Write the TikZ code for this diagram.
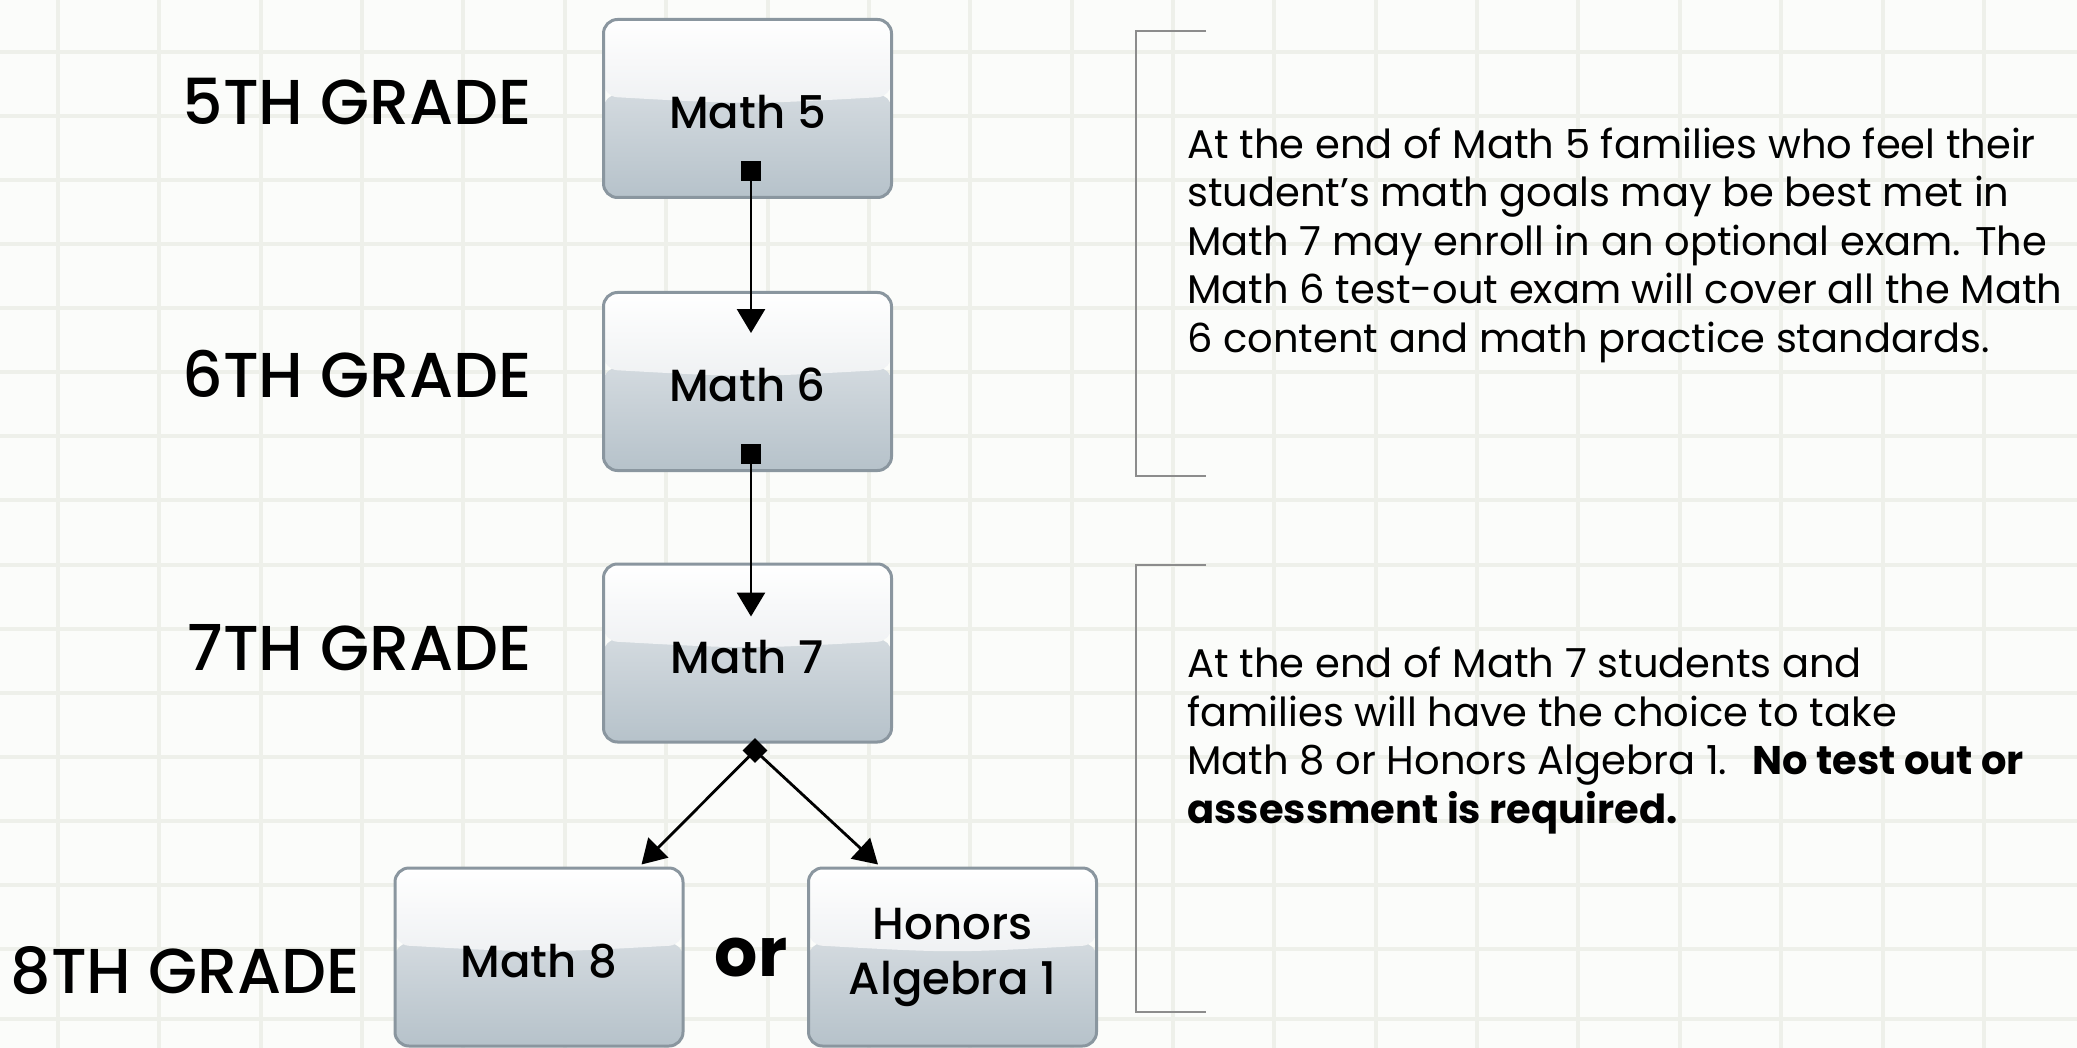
\documentclass[tikz,border=0pt]{standalone}
\usepackage{fontspec}
\setmainfont{Poppins}
\newfontfamily\poppinsmedium{Poppins Medium}
\usetikzlibrary{arrows.meta,positioning,calc,shapes.geometric}

\definecolor{paper}{HTML}{FBFCFA}
\definecolor{gridline}{HTML}{EEF0EA}
\definecolor{boxedge}{HTML}{8A969F}
\definecolor{boxhi}{HTML}{EFF1F3}
\definecolor{boxmid}{HTML}{E8EBEE}
\definecolor{boxlow}{HTML}{B6C2CA}
\definecolor{bracketgray}{HTML}{8C8C8C}

\tikzset{
  course/.style={draw=boxedge, line width=1.5pt, rounded corners=7pt,
    minimum width=144pt, minimum height=89pt, inner sep=0pt, align=center,
    font=\poppinsmedium\fontsize{22.5pt}{27.5pt}\selectfont,
    path picture={
      \shade[top color=boxmid, bottom color=boxlow]
        (path picture bounding box.south west) rectangle ([yshift=7pt]path picture bounding box.east);
      \shade[top color=white, bottom color=boxhi]
        (path picture bounding box.north west) -- (path picture bounding box.north east)
        -- ([yshift=6pt]path picture bounding box.east)
        .. controls ([yshift=2pt]path picture bounding box.center) ..
        ([yshift=6pt]path picture bounding box.west) -- cycle;
    }},
  oneline/.style={text height=20pt, text depth=0pt},
  grade/.style={font=\poppinsmedium\fontsize{31.7pt}{40pt}\selectfont, anchor=base east, inner sep=0pt},
  note/.style={font=\fontsize{20pt}{24.25pt}\selectfont, align=left, anchor=base west, inner sep=0pt},
  conn/.style={line width=1.4pt, {Square[length=10pt,width=10pt]}-{Triangle[length=12pt,width=14pt]}},
  branch/.style={line width=1.4pt, -{Triangle[length=12pt,width=14pt]}},
  splitdot/.style={diamond, fill=black, inner sep=0pt, minimum width=12.5pt, minimum height=12.5pt},
  bracket/.style={draw=bracketgray, line width=1.2pt}
}

\begin{document}
\begin{tikzpicture}[x=0.5pt, y=-0.5pt]
  \useasboundingbox (0,0) rectangle (2077,1048);
  \fill[paper] (0,0) rectangle (2077,1048);

  % grid paper
  \foreach \gx in {0,...,19}
    \draw[gridline, line width=2pt] ({58+101.36*\gx},0) -- ({58+101.36*\gx},1048);
  \foreach \gy in {52,116,180,244,308,372,436,500,565,629,693,757,821,885,949,1019}
    \draw[gridline, line width=2pt] (0,\gy) -- (2077,\gy);

  % courses
  \node[course, oneline] (m5) at (747.5,108.5) {Math 5};
  \node[course, oneline] (m6) at (747.5,381.5) {Math 6};
  \node[course, oneline] (m7) at (747.5,653) {Math 7};
  \node[course, oneline] (m8) at (539,957) {Math 8};
  \node[course] (ha1) at (952.5,957) {Honors\\Algebra 1};

  % grade labels
  \node[grade] (g5) at (532,125) {5TH GRADE};
  \node[grade] (g6) at (532,397) {6TH GRADE};
  \node[grade] (g7) at (532,670) {7TH GRADE};
  \node[grade] (g8) at (360,993) {8TH GRADE};
  \node[font=\fontsize{34pt}{40pt}\selectfont\bfseries, anchor=base, inner sep=0pt] (or) at (751,976) {or};

  % connectors
  \draw[conn] ([xshift=1.75pt,yshift=19pt]m5.south) -- ([xshift=1.75pt,yshift=-21pt]m6.north);
  \draw[conn] ([xshift=1.75pt,yshift=14pt]m6.south) -- ([xshift=1.75pt,yshift=-27pt]m7.north);
  \node[splitdot] (split) at ([xshift=3.75pt,yshift=-3.5pt]m7.south) {};
  \draw[branch] (split.center) -- ([xshift=-21.5pt,yshift=1pt]m8.north east);
  \draw[branch] (split.center) -- ([xshift=35.5pt,yshift=1pt]ha1.north west);

  % side notes (anchored on the last line)
  \draw[bracket] (1206,31) -- (1136,31) -- (1136,476) -- (1206,476);
  \node[note] (n1) at (1187,352) {At the end of Math 5 families who feel their\\
    student’s math goals may be best met in\\
    Math 7 may enroll in an optional exam. The\\
    Math 6 test-out exam will cover all the Math\\
    6 content and math practice standards.};
  \draw[bracket] (1206,565) -- (1136,565) -- (1136,1012) -- (1206,1012);
  \node[note] (n2) at (1187,823) {At the end of Math 7 students and\\
    families will have the choice to take\\
    Math 8 or Honors Algebra 1.~ \textbf{No test out or}\\
    \textbf{assessment is required.}};
\end{tikzpicture}
\end{document}
